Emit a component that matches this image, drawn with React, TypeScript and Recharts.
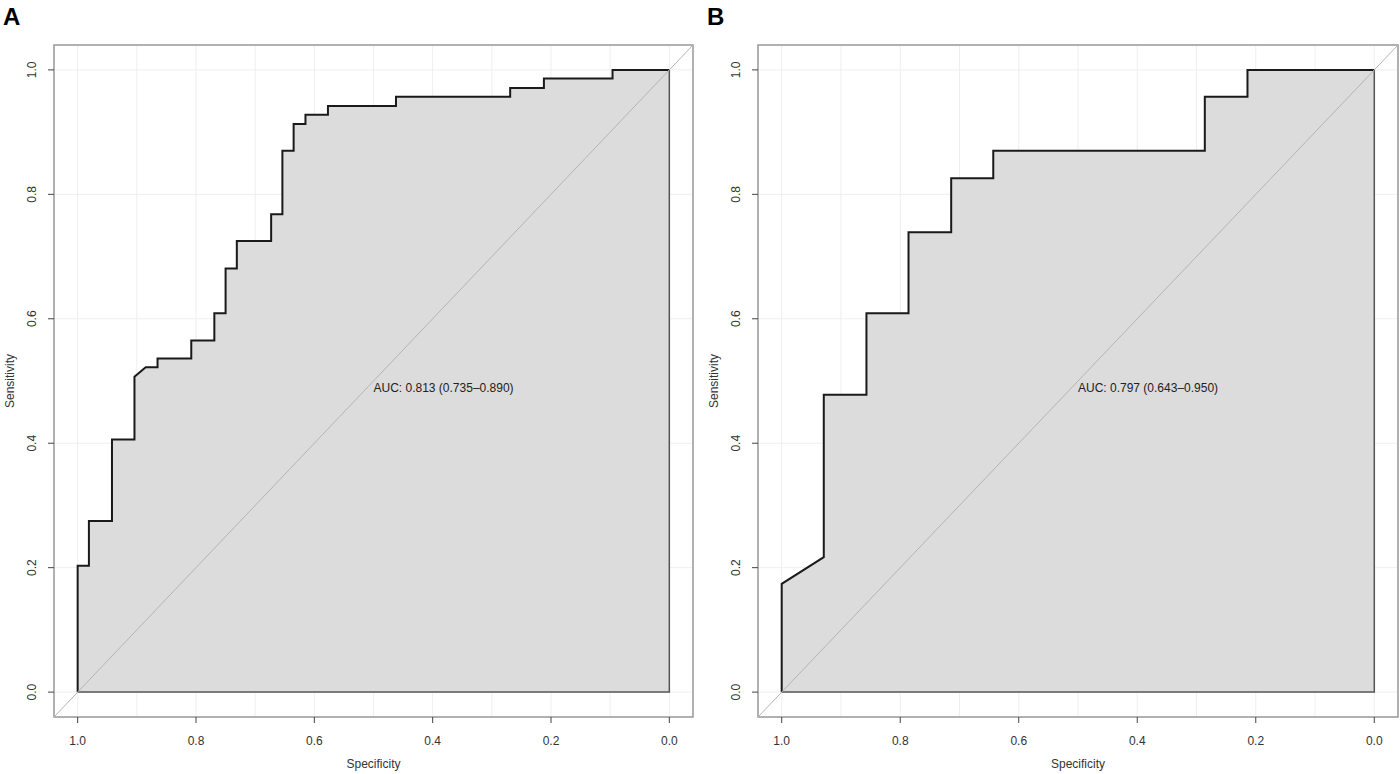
import React from "react";
import {
  ComposedChart,
  Area,
  Line,
  XAxis,
  YAxis,
  CartesianGrid,
  ReferenceLine,
  ReferenceArea,
  ReferenceDot,
} from "recharts";

// ROC curve A (specificity, sensitivity), starting at (1, 0)
const specA = [
  1.0, 1.0, 0.981, 0.981, 0.942, 0.942, 0.904, 0.904, 0.885, 0.865, 0.865, 0.808, 0.808, 0.769, 0.769,
  0.75, 0.75, 0.731, 0.731, 0.673, 0.673, 0.654, 0.654, 0.635, 0.635, 0.615, 0.615, 0.577, 0.577,
  0.462, 0.462, 0.269, 0.269, 0.212, 0.212, 0.096, 0.096, 0.0,
];
const sensA = [
  0.0, 0.203, 0.203, 0.275, 0.275, 0.406, 0.406, 0.507, 0.522, 0.522, 0.536, 0.536, 0.565, 0.565, 0.609,
  0.609, 0.681, 0.681, 0.725, 0.725, 0.768, 0.768, 0.87, 0.87, 0.913, 0.913, 0.928, 0.928, 0.942,
  0.942, 0.957, 0.957, 0.971, 0.971, 0.986, 0.986, 1.0, 1.0,
];

// ROC curve B
const specB = [
  1.0, 1.0, 0.929, 0.929, 0.857, 0.857, 0.786, 0.786, 0.714, 0.714, 0.643, 0.643, 0.286, 0.286, 0.214, 0.214, 0.0,
];
const sensB = [
  0.0, 0.174, 0.217, 0.478, 0.478, 0.609, 0.609, 0.739, 0.739, 0.826, 0.826, 0.87, 0.87, 0.957, 0.957, 1.0, 1.0,
];

const aucA = "AUC: 0.813 (0.735\u20130.890)";
const aucB = "AUC: 0.797 (0.643\u20130.950)";

const xTicks = [1.0, 0.9, 0.8, 0.7, 0.6, 0.5, 0.4, 0.3, 0.2, 0.1, 0.0];
const yTicks = [0.0, 0.2, 0.4, 0.6, 0.8, 1.0];
const axisMin = -0.04;
const axisMax = 1.04;
const aucPos = 0.5;

const FONT = '"Liberation Sans", Arial, Helvetica, sans-serif';

function XTick(props: any) {
  const { x, y, payload } = props;
  const v = payload.value;
  if (Math.round(v * 10) % 2 !== 0) return null;
  return (
    <g>
      <line x1={x} x2={x} y1={y - 6} y2={y} stroke="#444" strokeWidth={1} />
      <text x={x} y={y + 22} textAnchor="middle" fontSize={12} fill="#333">
        {v.toFixed(1)}
      </text>
    </g>
  );
}

function YTick(props: any) {
  const { x, y, payload } = props;
  return (
    <text transform={`translate(${x - 12}, ${y}) rotate(-90)`} textAnchor="middle" fontSize={12} fill="#333">
      {payload.value.toFixed(1)}
    </text>
  );
}

function AucText(props: any) {
  const { viewBox, text } = props;
  return (
    <text x={viewBox.x} y={viewBox.y + 11} fontSize={12} fill="#222">
      {text}
    </text>
  );
}

function YTitle(props: any) {
  const { viewBox } = props;
  const cy = viewBox.y + viewBox.height / 2;
  return (
    <text transform={`translate(14, ${cy}) rotate(-90)`} textAnchor="middle" fontSize={12} fill="#333">
      Sensitivity
    </text>
  );
}

function XTitle(props: any) {
  const { viewBox } = props;
  return (
    <text x={viewBox.x + viewBox.width / 2} y={768} textAnchor="middle" fontSize={12} fill="#333">
      Specificity
    </text>
  );
}

interface PanelProps {
  letter: string;
  spec: number[];
  sens: number[];
  auc: string;
  left: number;
  width: number;
  right: number;
}

function Panel({ letter, spec, sens, auc, left, width, right }: PanelProps) {
  const rows = spec.map((s, i) => ({ spec: s, sens: sens[i] }));
  const first = rows[0];
  const last = rows[rows.length - 1];
  // closing edge of the AUC polygon
  const closing = [last, { spec: last.spec, sens: first.sens }, first];

  return (
    <div style={{ position: "absolute", left, top: 0, width, height: 774 }}>
      <svg width={40} height={36} style={{ position: "absolute", left: 0, top: 0 }}>
        <text x={3} y={24.5} fontSize={24} fontWeight="bold" fill="#000" fontFamily={FONT}>
          {letter}
        </text>
      </svg>
      <ComposedChart
        width={width}
        height={774}
        data={rows}
        margin={{ top: 45, right, bottom: 0, left: 0 }}
      >
        <CartesianGrid stroke="#efefef" strokeWidth={1} />
        <XAxis
          dataKey="spec"
          type="number"
          domain={[axisMin, axisMax]}
          reversed
          allowDataOverflow
          ticks={xTicks}
          interval={0}
          height={57}
          axisLine={false}
          tickLine={false}
          tickSize={6}
          tickMargin={0}
          tick={<XTick />}
          label={<XTitle />}
        />
        <YAxis
          type="number"
          domain={[axisMin, axisMax]}
          allowDataOverflow
          ticks={yTicks}
          interval={0}
          width={54}
          axisLine={false}
          tickLine={{ stroke: "#444" }}
          tickSize={6}
          tickMargin={0}
          tick={<YTick />}
          label={<YTitle />}
        />
        <Area
          type="linear"
          dataKey="sens"
          baseValue={0}
          stroke="#1a1a1a"
          strokeWidth={2}
          fill="#dcdcdc"
          fillOpacity={1}
          dot={false}
          activeDot={false}
          isAnimationActive={false}
        />
        <Line
          data={closing}
          type="linear"
          dataKey="sens"
          stroke="#555"
          strokeWidth={1.5}
          dot={false}
          activeDot={false}
          isAnimationActive={false}
        />
        <ReferenceLine
          segment={[
            { x: axisMax, y: axisMin },
            { x: axisMin, y: axisMax },
          ]}
          stroke="#b4b4b4"
          strokeWidth={1}
          ifOverflow="visible"
        />
        <ReferenceArea
          x1={axisMin}
          x2={axisMax}
          y1={axisMin}
          y2={axisMax}
          fill="none"
          fillOpacity={0}
          stroke="#9a9a9a"
          strokeWidth={1.5}
          ifOverflow="visible"
        />
        <ReferenceDot
          x={aucPos}
          y={aucPos}
          r={0}
          fill="none"
          stroke="none"
          ifOverflow="visible"
          label={<AucText text={auc} />}
        />
      </ComposedChart>
    </div>
  );
}

export default function App() {
  return (
    <div
      style={{
        position: "absolute",
        left: 0,
        top: 0,
        width: 1400,
        height: 774,
        background: "#fff",
        fontFamily: FONT,
      }}
    >
      <Panel letter="A" spec={specA} sens={sensA} auc={aucA} left={0} width={700} right={7} />
      <Panel letter="B" spec={specB} sens={sensB} auc={aucB} left={704} width={696} right={2} />
    </div>
  );
}
